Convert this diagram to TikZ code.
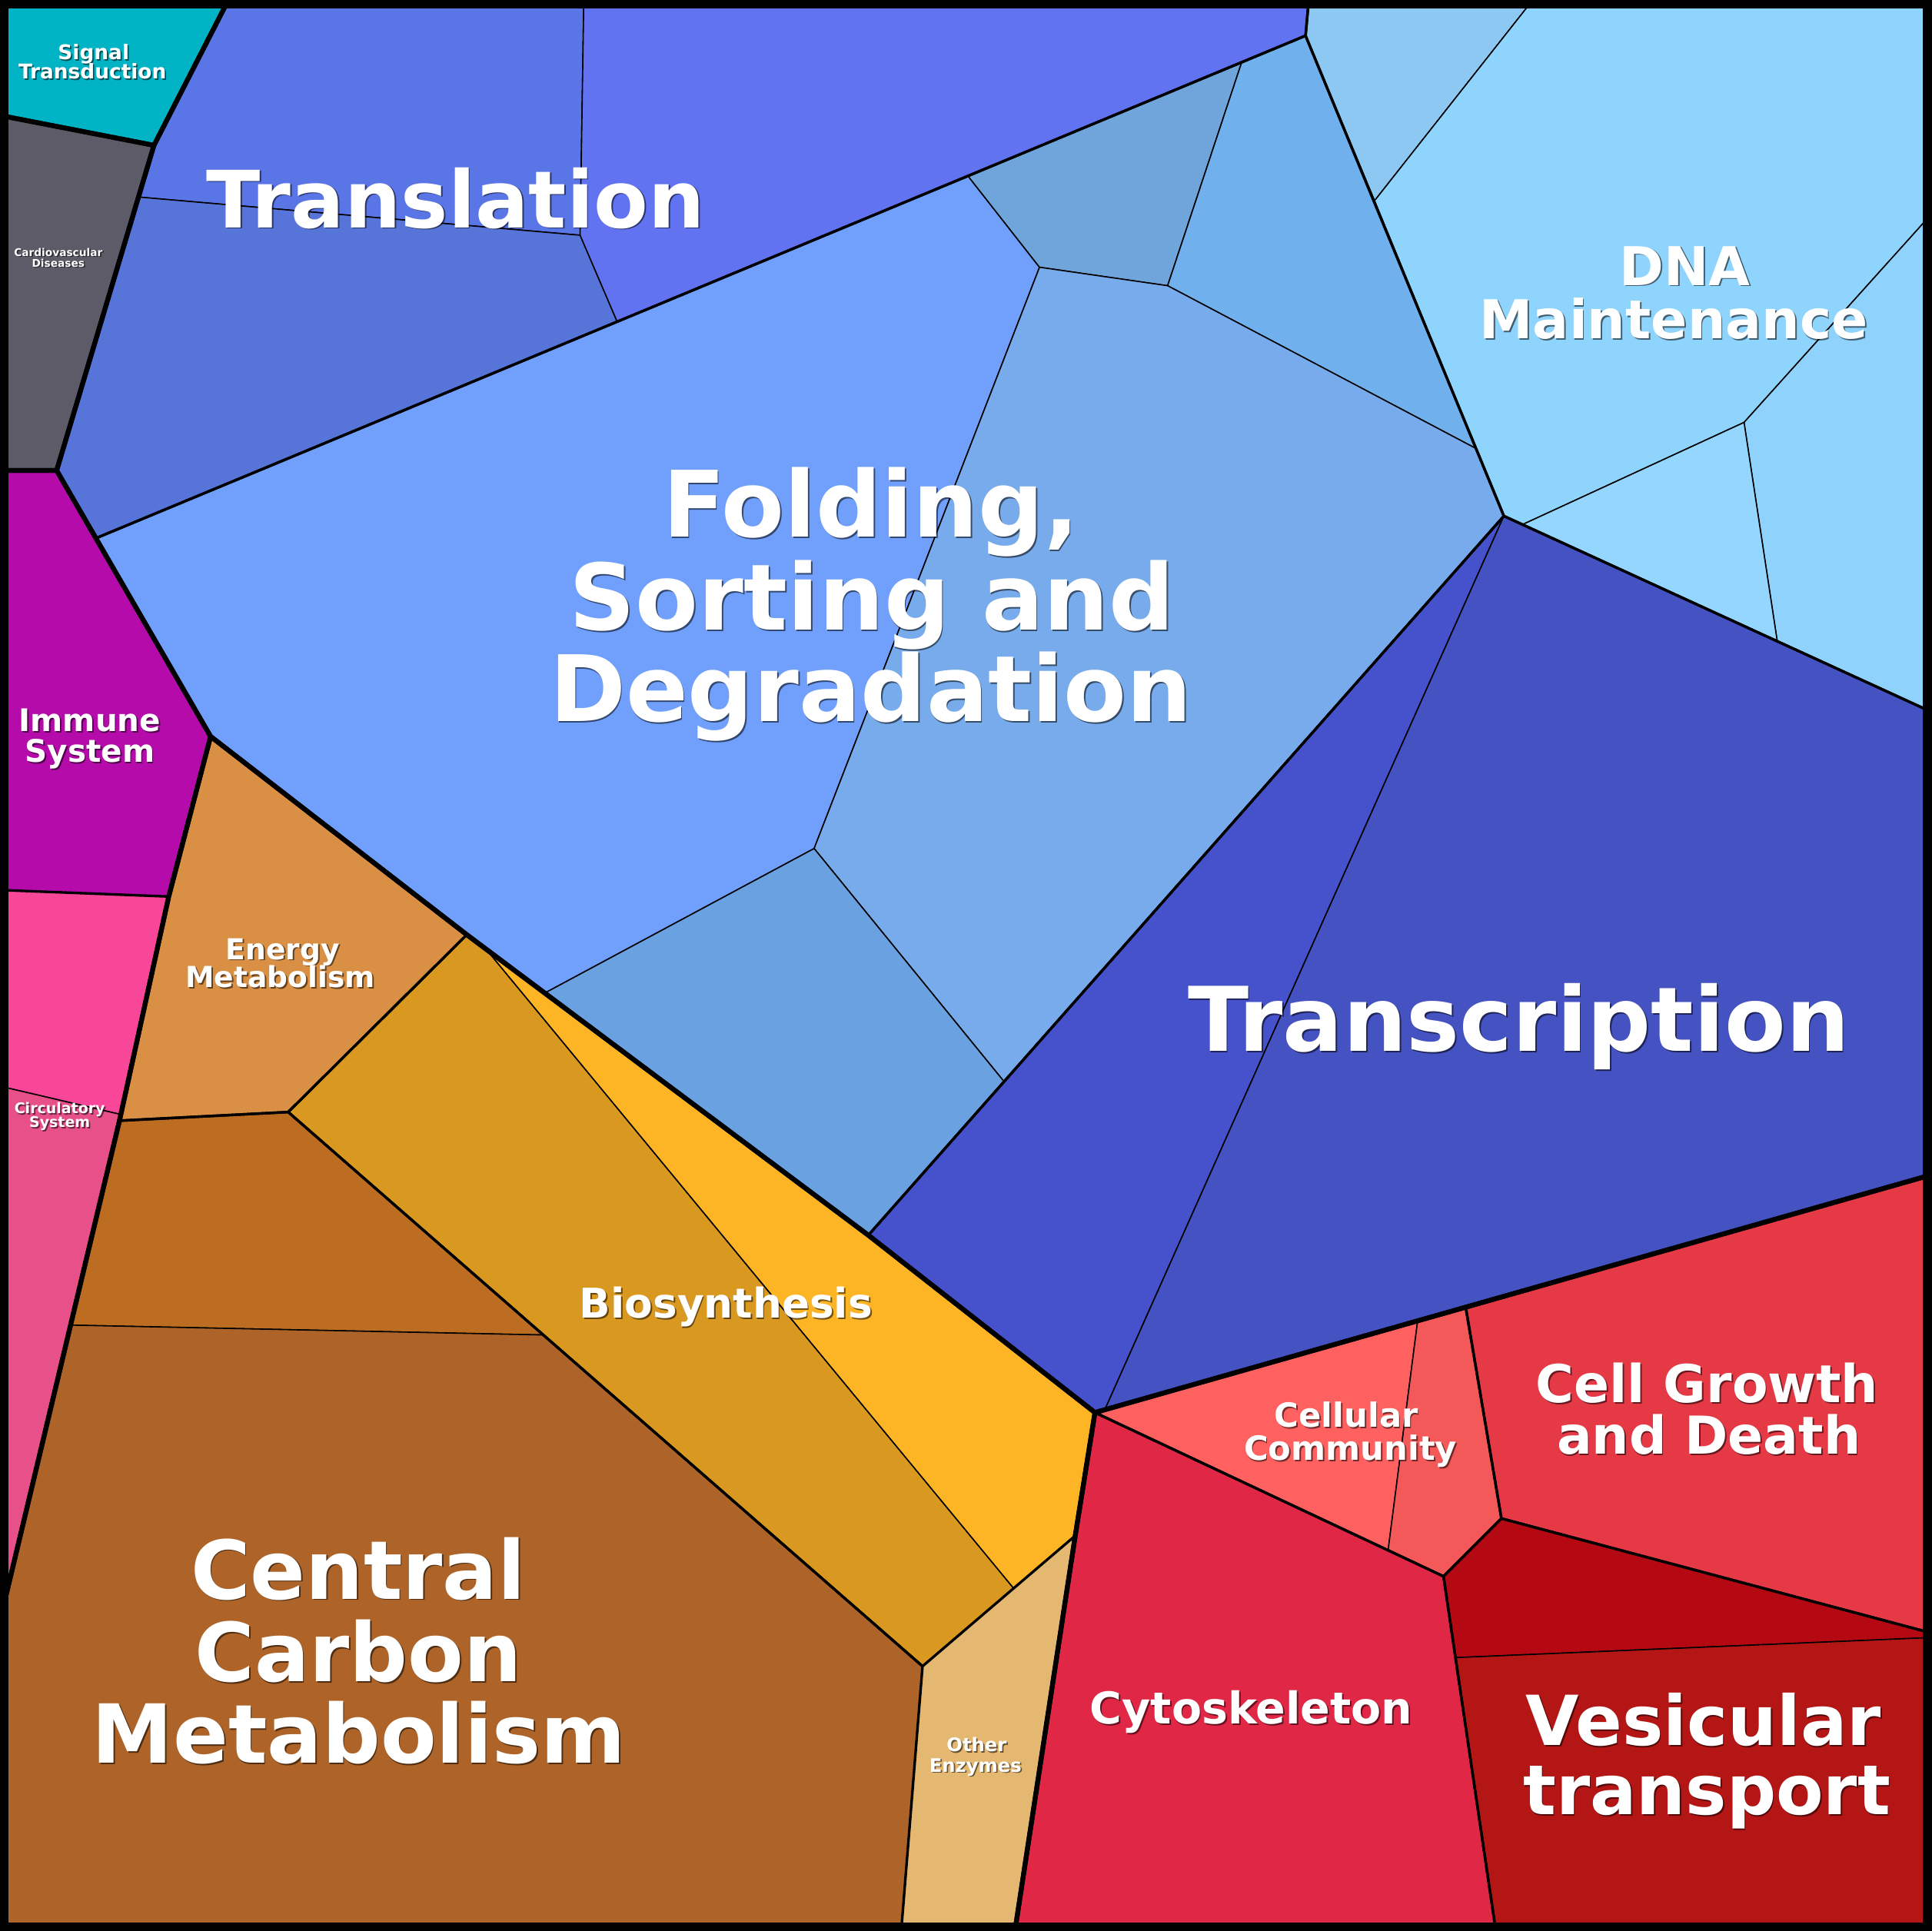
\documentclass[tikz,border=0pt]{standalone}
\usepackage{fontspec}
\setmainfont{DejaVu Sans}
\definecolor{cSig}{HTML}{00B4C6}
\definecolor{cCar}{HTML}{5E5B68}
\definecolor{cTrA}{HTML}{5A75E6}
\definecolor{cTrB}{HTML}{5775D8}
\definecolor{cTrC}{HTML}{6273F2}
\definecolor{cFa}{HTML}{70A0FC}
\definecolor{cFb}{HTML}{6FA5DB}
\definecolor{cFc}{HTML}{70B0EC}
\definecolor{cFd}{HTML}{78ABEB}
\definecolor{cFe}{HTML}{69A1E1}
\definecolor{cDa}{HTML}{8CC8F2}
\definecolor{cDb}{HTML}{8ED4FC}
\definecolor{cDc}{HTML}{8FD3FD}
\definecolor{cDd}{HTML}{94D6FD}
\definecolor{cTa}{HTML}{4652CC}
\definecolor{cTb}{HTML}{4552C2}
\definecolor{cImm}{HTML}{B40BAA}
\definecolor{cCia}{HTML}{F84798}
\definecolor{cCib}{HTML}{E85089}
\definecolor{cEn}{HTML}{D99044}
\definecolor{cCa}{HTML}{BC6D21}
\definecolor{cCb}{HTML}{AE6428}
\definecolor{cBa}{HTML}{D99820}
\definecolor{cBb}{HTML}{FDB526}
\definecolor{cOE}{HTML}{E4B871}
\definecolor{cCCa}{HTML}{FF6160}
\definecolor{cCCb}{HTML}{F45959}
\definecolor{cCG}{HTML}{E63946}
\definecolor{cCy}{HTML}{E12746}
\definecolor{cVa}{HTML}{B40912}
\definecolor{cVb}{HTML}{B41615}
\tikzset{
  leaf/.style={draw=black, line width=0.45pt, line join=round},
  grp/.style={draw=black, line width=0.95pt, line join=round},
  topgrp/.style={draw=black, line width=1.75pt, line join=round},
  lbl/.style={text=white, inner sep=0pt, anchor=base},
  lblsh/.style={text=black, opacity=0.55, inner sep=0pt, anchor=base}
}
\newcommand{\lbl}[5]{%
  \node[lblsh, font=\bfseries\fontsize{#4}{#4}\selectfont] (#1s) at ([shift={(1.1,1.1)}]#2,#3) {#5};
  \node[lbl, font=\bfseries\fontsize{#4}{#4}\selectfont] (#1) at (#2,#3) {#5};
}
\begin{document}
\begin{tikzpicture}[x=0.016cm, y=-0.016cm]
\useasboundingbox (0,0) rectangle (1568,1568);
\coordinate (c1) at (0,0);
\coordinate (c2) at (1568,0);
\coordinate (c3) at (1568,1568);
\coordinate (c4) at (0,1568);
\coordinate (a1) at (185.4,0);
\coordinate (a2) at (125,118);
\coordinate (a3) at (0,93.7);
\coordinate (a4) at (46,382);
\coordinate (a5) at (0,382);
\coordinate (a6) at (112.5,160);
\coordinate (a7) at (474,0);
\coordinate (a8) at (471,191);
\coordinate (a9) at (501,261);
\coordinate (a10) at (78,437);
\coordinate (a11) at (1062.6,0);
\coordinate (a12) at (1060,29);
\coordinate (a13) at (1008,51);
\coordinate (a14) at (786,143);
\coordinate (a15) at (844,217);
\coordinate (a16) at (948,232);
\coordinate (a17) at (1198,364);
\coordinate (a18) at (1221,419);
\coordinate (a19) at (661,689);
\coordinate (a20) at (815,878);
\coordinate (a21) at (705,1003);
\coordinate (a22) at (443,806);
\coordinate (a23) at (379,759);
\coordinate (a24) at (394.5,770.5);
\coordinate (a25) at (171,598);
\coordinate (a26) at (1244.5,0);
\coordinate (a27) at (1116,163);
\coordinate (a28) at (1568,174);
\coordinate (a29) at (1416,343);
\coordinate (a30) at (1236,426);
\coordinate (a31) at (1443,521);
\coordinate (a32) at (1568,578);
\coordinate (a33) at (1568,954);
\coordinate (a34) at (897,1144.7);
\coordinate (a35) at (889,1147);
\coordinate (a37) at (1151,1072.5);
\coordinate (a38) at (1190,1061.4);
\coordinate (a39) at (1219,1233);
\coordinate (a40) at (1172,1280);
\coordinate (a41) at (1127,1259);
\coordinate (a42) at (1568,1326);
\coordinate (a43) at (1568,1329.7);
\coordinate (a44) at (1181.7,1346);
\coordinate (a45) at (1214.5,1568);
\coordinate (a46) at (873,1247);
\coordinate (a47) at (824,1568);
\coordinate (a48) at (823,1289.7);
\coordinate (a49) at (749,1353);
\coordinate (a50) at (731.7,1568);
\coordinate (a51) at (234,903);
\coordinate (a52) at (97,910);
\coordinate (a53) at (137,728);
\coordinate (a54) at (0,722.7);
\coordinate (a55) at (98.2,905);
\coordinate (a56) at (0,882);
\coordinate (a57) at (57.3,1076);
\coordinate (a58) at (441,1084);
\coordinate (a59) at (0,1316);
% ---- leaf cells ----
\filldraw[leaf, fill=cSig] (c1) -- (a1) -- (a2) -- (a3) -- cycle;
\filldraw[leaf, fill=cCar] (a3) -- (a2) -- (a4) -- (a5) -- cycle;
\filldraw[leaf, fill=cTrA] (a1) -- (a7) -- (a8) -- (a6) -- (a2) -- cycle;
\filldraw[leaf, fill=cTrB] (a6) -- (a8) -- (a9) -- (a10) -- (a4) -- cycle;
\filldraw[leaf, fill=cTrC] (a7) -- (a11) -- (a12) -- (a9) -- (a8) -- cycle;
\filldraw[leaf, fill=cFa] (a10) -- (a9) -- (a14) -- (a15) -- (a19) -- (a22) -- (a23) -- (a25) -- cycle;
\filldraw[leaf, fill=cFb] (a14) -- (a13) -- (a16) -- (a15) -- cycle;
\filldraw[leaf, fill=cFc] (a13) -- (a12) -- (a17) -- (a16) -- cycle;
\filldraw[leaf, fill=cFd] (a15) -- (a16) -- (a17) -- (a18) -- (a20) -- (a19) -- cycle;
\filldraw[leaf, fill=cFe] (a22) -- (a19) -- (a20) -- (a21) -- cycle;
\filldraw[leaf, fill=cDa] (a11) -- (a26) -- (a27) -- (a12) -- cycle;
\filldraw[leaf, fill=cDb] (a26) -- (c2) -- (a28) -- (a29) -- (a30) -- (a18) -- (a27) -- cycle;
\filldraw[leaf, fill=cDc] (a28) -- (a32) -- (a31) -- (a29) -- cycle;
\filldraw[leaf, fill=cDd] (a18) -- (a30) -- (a29) -- (a31) -- cycle;
\filldraw[leaf, fill=cTa] (a18) -- (a34) -- (a35) -- (a21) -- cycle;
\filldraw[leaf, fill=cTb] (a18) -- (a32) -- (a33) -- (a34) -- cycle;
\filldraw[leaf, fill=cImm] (a5) -- (a4) -- (a25) -- (a53) -- (a54) -- cycle;
\filldraw[leaf, fill=cCia] (a54) -- (a53) -- (a55) -- (a56) -- cycle;
\filldraw[leaf, fill=cCib] (a56) -- (a55) -- (a52) -- (a57) -- (a59) -- cycle;
\filldraw[leaf, fill=cEn] (a25) -- (a23) -- (a51) -- (a52) -- (a53) -- cycle;
\filldraw[leaf, fill=cCa] (a52) -- (a51) -- (a58) -- (a57) -- cycle;
\filldraw[leaf, fill=cCb] (a57) -- (a58) -- (a49) -- (a50) -- (c4) -- (a59) -- cycle;
\filldraw[leaf, fill=cBa] (a51) -- (a23) -- (a24) -- (a48) -- (a49) -- cycle;
\filldraw[leaf, fill=cBb] (a24) -- (a21) -- (a35) -- (a46) -- (a48) -- cycle;
\filldraw[leaf, fill=cOE] (a49) -- (a48) -- (a46) -- (a47) -- (a50) -- cycle;
\filldraw[leaf, fill=cCCa] (a35) -- (a37) -- (a41) -- cycle;
\filldraw[leaf, fill=cCCb] (a37) -- (a38) -- (a39) -- (a40) -- (a41) -- cycle;
\filldraw[leaf, fill=cCG] (a38) -- (a33) -- (a42) -- (a39) -- cycle;
\filldraw[leaf, fill=cCy] (a35) -- (a40) -- (a44) -- (a45) -- (a47) -- (a46) -- cycle;
\filldraw[leaf, fill=cVa] (a40) -- (a39) -- (a42) -- (a43) -- (a44) -- cycle;
\filldraw[leaf, fill=cVb] (a44) -- (a43) -- (c3) -- (a45) -- cycle;
% ---- second level outlines ----
\draw[grp] (a1) -- (a11) -- (a12) -- (a10) -- (a4) -- (a2) -- cycle;
\draw[grp] (a10) -- (a12) -- (a18) -- (a21) -- (a23) -- (a25) -- cycle;
\draw[grp] (a11) -- (c2) -- (a32) -- (a18) -- (a12) -- cycle;
\draw[grp] (a18) -- (a32) -- (a33) -- (a35) -- (a21) -- cycle;
\draw[grp] (a54) -- (a53) -- (a52) -- (a57) -- (a59) -- cycle;
\draw[grp] (a25) -- (a23) -- (a51) -- (a52) -- (a53) -- cycle;
\draw[grp] (a52) -- (a51) -- (a49) -- (a50) -- (c4) -- (a59) -- (a57) -- cycle;
\draw[grp] (a51) -- (a23) -- (a21) -- (a35) -- (a46) -- (a48) -- (a49) -- cycle;
\draw[grp] (a35) -- (a38) -- (a39) -- (a40) -- cycle;
\draw[grp] (a38) -- (a33) -- (a42) -- (a39) -- cycle;
\draw[grp] (a35) -- (a40) -- (a44) -- (a45) -- (a47) -- (a46) -- cycle;
\draw[grp] (a40) -- (a39) -- (a42) -- (c3) -- (a45) -- (a44) -- cycle;
% ---- top level outlines ----
\draw[topgrp] (c1) -- (a1) -- (a2) -- (a3) -- cycle;
\draw[topgrp] (a3) -- (a2) -- (a4) -- (a5) -- cycle;
\draw[topgrp] (a1) -- (c2) -- (a33) -- (a35) -- (a21) -- (a23) -- (a25) -- (a4) -- (a2) -- cycle;
\draw[topgrp] (a5) -- (a4) -- (a25) -- (a53) -- (a52) -- (a57) -- (a59) -- cycle;
\draw[topgrp] (a25) -- (a23) -- (a21) -- (a35) -- (a46) -- (a47) -- (c4) -- (a59) -- (a57) -- (a52) -- (a53) -- cycle;
\draw[topgrp] (a35) -- (a33) -- (c3) -- (a47) -- (a46) -- cycle;
% ---- frame ----
\draw[line width=6pt] (c1) rectangle (c3);
% ---- labels ----
\lbl{sig1}{76}{48.5}{7.5}{Signal}
\lbl{sig2}{75}{64.2}{7.5}{Transduction}
\lbl{car1}{47.3}{207.9}{3.9}{Cardiovascular}
\lbl{car2}{47.3}{216.6}{3.9}{Diseases}
\lbl{tra}{370}{184.9}{29.3}{Translation}
\lbl{fol1}{707}{436.3}{33.9}{Folding,}
\lbl{fol2}{708}{511.5}{33.9}{Sorting and}
\lbl{fol3}{707}{586.1}{33.9}{Degradation}
\lbl{dna1}{1368}{231.7}{19.8}{DNA}
\lbl{dna2}{1359}{275.1}{19.8}{Maintenance}
\lbl{trs}{1233}{853.6}{33}{Transcription}
\lbl{imm1}{73}{593.8}{11.5}{Immune}
\lbl{imm2}{73}{618.9}{11.5}{System}
\lbl{ene1}{229.7}{779}{10.7}{Energy}
\lbl{ene2}{227.7}{801.8}{10.7}{Metabolism}
\lbl{cir1}{48.5}{904.4}{5.4}{Circulatory}
\lbl{cir2}{48.5}{915.4}{5.4}{System}
\lbl{ccm1}{290.8}{1298.4}{30.1}{Central}
\lbl{ccm2}{290.9}{1365.3}{30.1}{Carbon}
\lbl{ccm3}{291.4}{1431.5}{30.1}{Metabolism}
\lbl{bio}{589.5}{1070.4}{15.15}{Biosynthesis}
\lbl{oe1}{793}{1422.5}{6.9}{Other}
\lbl{oe2}{792}{1438.8}{6.9}{Enzymes}
\lbl{cyt}{1016}{1399.7}{16.2}{Cytoskeleton}
\lbl{cc1}{1093}{1159}{12.3}{Cellular}
\lbl{cc2}{1096.5}{1185.8}{12.3}{Community}
\lbl{cg1}{1386}{1139}{19.3}{Cell Growth}
\lbl{cg2}{1387.4}{1180.7}{19.3}{and Death}
\lbl{ves1}{1383}{1417.4}{25.5}{Vesicular}
\lbl{ves2}{1385.8}{1473.3}{25.5}{transport}
\end{tikzpicture}
\end{document}
